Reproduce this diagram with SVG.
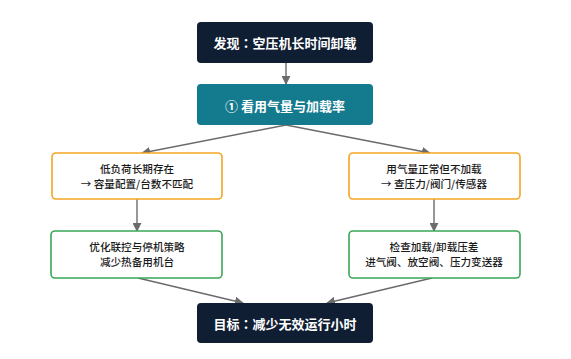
<svg xmlns="http://www.w3.org/2000/svg" width="571" height="359" viewBox="0 0 571 359">
<defs>
<marker id="arr" viewBox="0 0 10 10" refX="9" refY="5" markerWidth="9" markerHeight="9" markerUnits="userSpaceOnUse" orient="auto">
<path d="M0,0 L10,5 L0,10 z" fill="#6b6b6b"/>
</marker>
<style>
.dark{fill:#0f1e33}
.teal{fill:#147a8e}
.orange{fill:#ffffff;stroke:#f4a524;stroke-width:1.6}
.green{fill:#ffffff;stroke:#3aa655;stroke-width:1.6}
.tw{font-family:"Noto Sans CJK SC","Noto Sans",sans-serif;font-size:13px;font-weight:700;fill:#ffffff;text-anchor:middle;dominant-baseline:central}
.tb{font-family:"Noto Sans CJK SC","Noto Sans",sans-serif;font-size:10.6px;font-weight:500;fill:#1a1a1a;text-anchor:middle;dominant-baseline:central}
.colon{font-family:"Noto Sans CJK JP","Noto Sans CJK SC",sans-serif}
.edge{stroke:#6b6b6b;stroke-width:1.4;fill:none;marker-end:url(#arr)}
</style>
</defs>
<rect width="571" height="359" fill="#ffffff"/>
<g id="connectors">
<line class="edge" x1="286" y1="63" x2="286" y2="84"/>
<line class="edge" x1="286" y1="125" x2="142" y2="153"/>
<line class="edge" x1="286" y1="125" x2="430" y2="153"/>
<line class="edge" x1="137" y1="199" x2="137" y2="231"/>
<line class="edge" x1="434" y1="199" x2="434" y2="231"/>
<line class="edge" x1="138" y1="278" x2="243" y2="303"/>
<line class="edge" x1="432" y1="278" x2="327" y2="303"/>
</g>
<g id="n1">
<rect class="dark" x="197" y="22" width="176" height="41" rx="4"/>
<text class="tw" x="285" y="42">发现<tspan class="colon">：</tspan>空压机长时间卸载</text>
</g>
<g id="n2">
<rect class="teal" x="197" y="84" width="176" height="41" rx="4"/>
<text class="tw" x="285" y="105">① 看用气量与加载率</text>
</g>
<g id="n3">
<rect class="orange" x="52" y="153" width="170" height="46" rx="4"/>
<text class="tb" x="137" y="168">低负荷长期存在</text>
<text class="tb" x="137" y="183">→ 容量配置/台数不匹配</text>
</g>
<g id="n4">
<rect class="orange" x="349" y="153" width="171" height="46" rx="4"/>
<text class="tb" x="434" y="168">用气量正常但不加载</text>
<text class="tb" x="434" y="183">→ 查压力/阀门/传感器</text>
</g>
<g id="n5">
<rect class="green" x="51" y="231" width="171" height="47" rx="4"/>
<text class="tb" x="137" y="246.5">优化联控与停机策略</text>
<text class="tb" x="137" y="261">减少热备用机台</text>
</g>
<g id="n6">
<rect class="green" x="349" y="231" width="171" height="47" rx="4"/>
<text class="tb" x="434" y="246.5">检查加载/卸载压差</text>
<text class="tb" x="434" y="261">进气阀、放空阀、压力变送器</text>
</g>
<g id="n7">
<rect class="dark" x="197" y="303" width="176" height="40" rx="4"/>
<text class="tw" x="285" y="323">目标<tspan class="colon">：</tspan>减少无效运行小时</text>
</g>
</svg>
